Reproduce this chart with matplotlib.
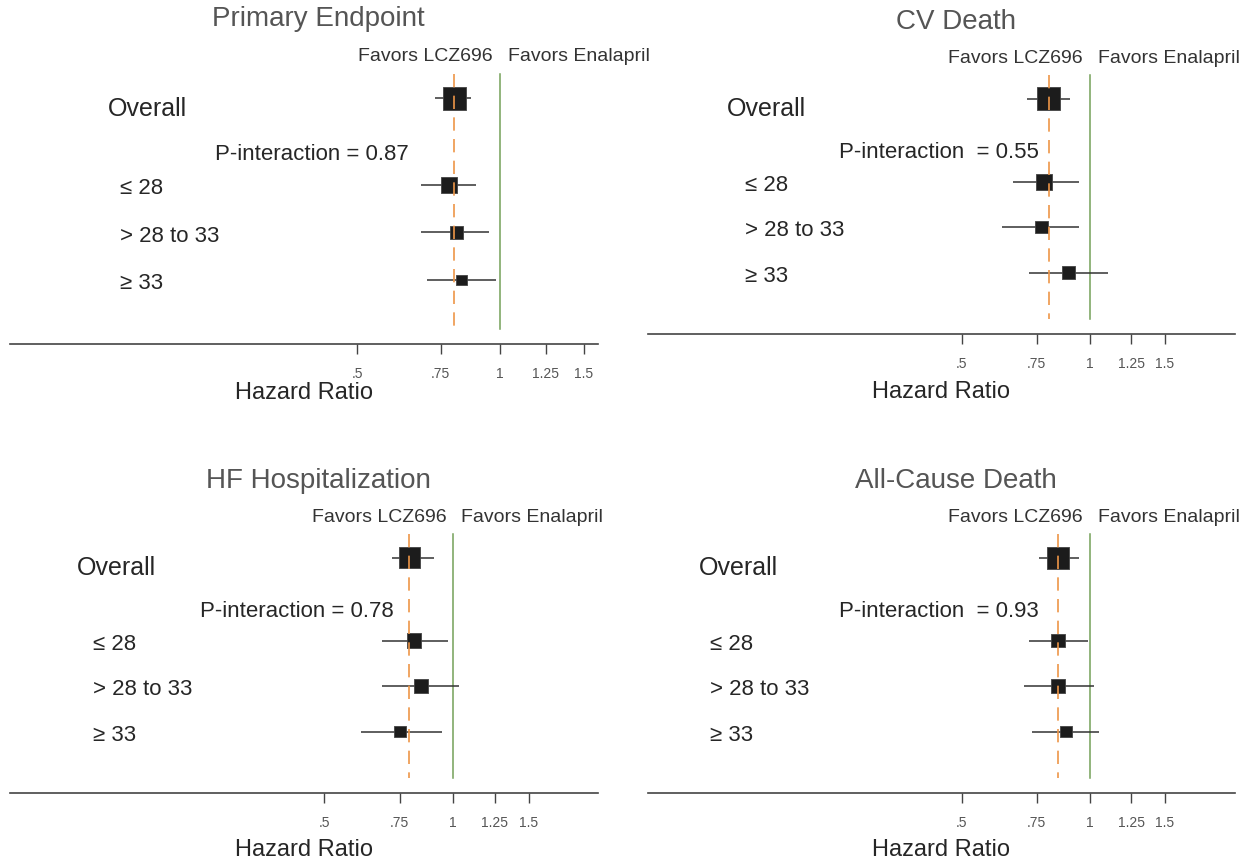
import numpy as np
import matplotlib.pyplot as plt
from matplotlib.ticker import FixedLocator, FixedFormatter, NullLocator

plt.rcParams['font.family'] = ['Liberation Sans', 'DejaVu Sans']

# Datos (HR e IC 95%)
titles = ['Primary Endpoint', 'CV Death', 'HF Hospitalization', 'All-Cause Death']
subgroups = ['≤ 28', '> 28 to 33', '≥ 33']
p_text = ['P-interaction = 0.87', 'P-interaction  = 0.55',
          'P-interaction = 0.78', 'P-interaction  = 0.93']

hr_overall = [0.80, 0.80, 0.79, 0.84]
lo_overall = [0.73, 0.71, 0.72, 0.76]
hi_overall = [0.87, 0.90, 0.90, 0.94]

hr_sub = [[0.78, 0.81, 0.83], [0.78, 0.77, 0.89], [0.81, 0.84, 0.75], [0.84, 0.84, 0.88]]
lo_sub = [[0.68, 0.68, 0.70], [0.66, 0.62, 0.72], [0.68, 0.68, 0.61], [0.72, 0.70, 0.73]]
hi_sub = [[0.89, 0.95, 0.98], [0.94, 0.94, 1.10], [0.97, 1.03, 0.94], [0.99, 1.02, 1.05]]

tick_vals = [0.5, 0.75, 1, 1.25, 1.5]
tick_text = ['.5', '.75', '1', '1.25', '1.5']

# Disposición (en pixeles de la imagen)
W, H = 1249, 862
boxes = [(10, 598, 43.4, 345), (648, 1235, 46, 335), (10, 598, 505, 794), (648, 1235, 505, 794)]
xlims = [(0.0927, 1.609), (0.0917, 2.19), (0.0923, 2.177), (0.0917, 2.19)]
label_x = [(0.167, 0.187, 0.349), (0.135, 0.165, 0.325), (0.114, 0.141, 0.323), (0.087, 0.106, 0.325)]
box_px = [[23, 16, 13.5, 10.7], [22.5, 16, 12.5, 12.5], [21, 14.5, 13.5, 11.8], [22, 13.7, 13.7, 11.8]]
xlabel_off = [48, 57, 56, 56]

y_overall = -0.82
y_sub = np.arange(1, 4)

fig = plt.figure(figsize=(W / 100, H / 100), dpi=100)

for i in range(4):
    l, r, t, b = boxes[i]
    ax = fig.add_axes([l / W, 1 - b / H, (r - l) / W, (b - t) / H])
    ax.set_xscale('log')
    ax.set_xlim(*xlims[i])
    ax.set_ylim(4.35, -2.0)

    # lineas de referencia
    ax.plot([1, 1], [-1.33, 4.03], color='#74A058', lw=1.1, zorder=1)
    ax.plot([hr_overall[i]] * 2, [-1.33, 4.03], color='#EE9648', lw=1.2,
            dashes=(8, 5), zorder=4)

    # intervalos de confianza
    ys = np.concatenate([[y_overall], y_sub])
    los = [lo_overall[i]] + lo_sub[i]
    his = [hi_overall[i]] + hi_sub[i]
    hrs = [hr_overall[i]] + hr_sub[i]
    ax.hlines(ys, los, his, color='#333333', lw=1.1, zorder=2)
    sizes = [(p * 0.72) ** 2 for p in box_px[i]]
    ax.scatter(hrs, ys, s=sizes, marker='s', color='#1c1c1c',
               edgecolors='#444444', linewidths=0.6, zorder=3)

    # textos
    tr = ax.get_yaxis_transform()
    ax.text(label_x[i][0], -0.62, 'Overall', transform=tr, fontsize=18,
            color='#262626', va='center', ha='left')
    for k, name in enumerate(subgroups):
        ax.text(label_x[i][1], y_sub[k] + 0.06, name, transform=tr, fontsize=16,
                color='#262626', va='center', ha='left')
    ax.text(label_x[i][2], 0.33, p_text[i], transform=tr, fontsize=16,
            color='#262626', va='center', ha='left')

    ax.annotate('Favors LCZ696', xy=(1, -1.73), xytext=(-7 * 0.72, 0),
                textcoords='offset points', ha='right', va='center',
                fontsize=14, color='#333333')
    ax.annotate('Favors Enalapril', xy=(1, -1.73), xytext=(8 * 0.72, 0),
                textcoords='offset points', ha='left', va='center',
                fontsize=14, color='#333333', annotation_clip=False)

    ax.text(0.525, -2.52, titles[i], transform=tr, fontsize=20,
            color='#555555', ha='center', va='center')
    ax.annotate('Hazard Ratio', xy=(0.5, 0), xycoords='axes fraction',
                xytext=(0, -xlabel_off[i] * 0.72), textcoords='offset points',
                ha='center', va='center', fontsize=17, color='#262626')

    # ejes
    ax.xaxis.set_major_locator(FixedLocator(tick_vals))
    ax.xaxis.set_major_formatter(FixedFormatter(tick_text))
    ax.xaxis.set_minor_locator(NullLocator())
    ax.tick_params(axis='x', length=7, width=1, color='#444444', pad=9,
                   labelsize=10, labelcolor='#555555')
    ax.tick_params(axis='y', left=False, labelleft=False)
    for s in ['left', 'top', 'right']:
        ax.spines[s].set_visible(False)
    ax.spines['bottom'].set_color('#444444')
    ax.spines['bottom'].set_linewidth(1.2)
    ax.patch.set_alpha(0)

fig.savefig('out.png', dpi=100)
